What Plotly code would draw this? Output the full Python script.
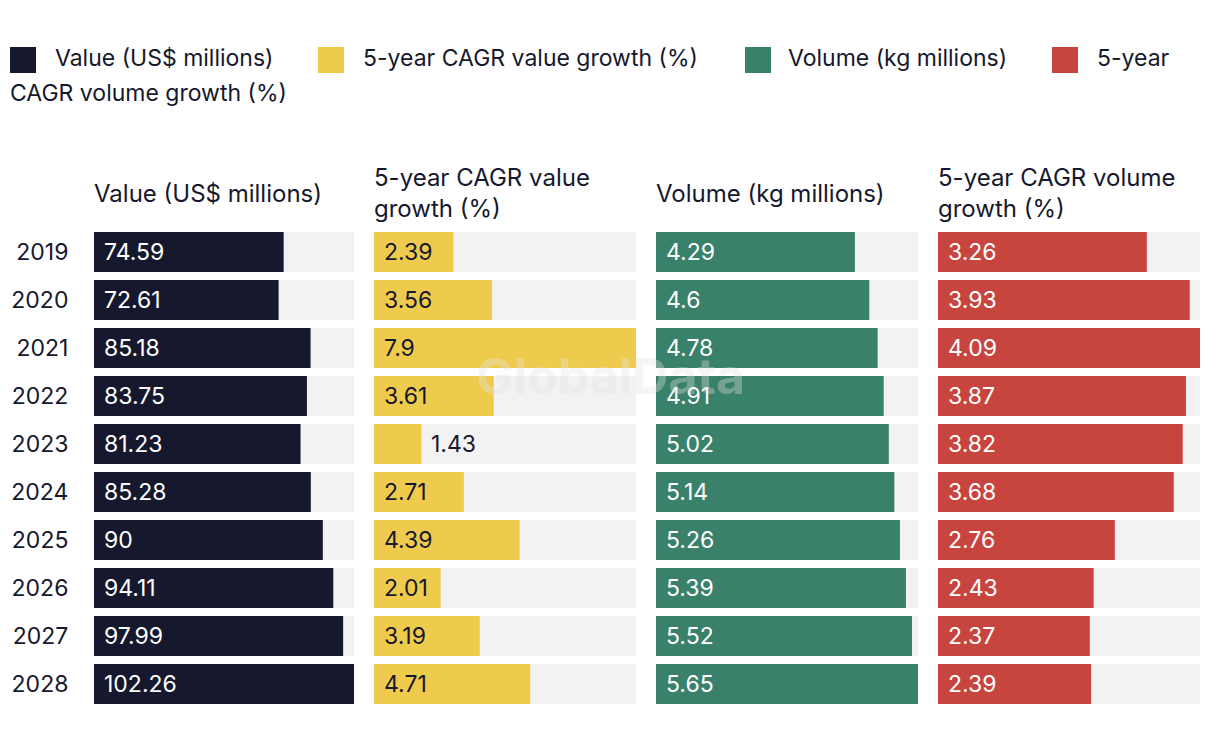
import plotly.graph_objects as go
from plotly.subplots import make_subplots

W, H = 1220, 748

years = ["2019", "2020", "2021", "2022", "2023", "2024", "2025", "2026", "2027", "2028"]
value_usd = [74.59, 72.61, 85.18, 83.75, 81.23, 85.28, 90, 94.11, 97.99, 102.26]
cagr_value = [2.39, 3.56, 7.9, 3.61, 1.43, 2.71, 4.39, 2.01, 3.19, 4.71]
volume_kg = [4.29, 4.6, 4.78, 4.91, 5.02, 5.14, 5.26, 5.39, 5.52, 5.65]
cagr_volume = [3.26, 3.93, 4.09, 3.87, 3.82, 3.68, 2.76, 2.43, 2.37, 2.39]

series_names = ["Value (US$ millions)", "5-year CAGR value growth (%)",
                "Volume (kg millions)", "5-year CAGR volume growth (%)"]
panel_titles = ["Value (US$ millions)", "5-year CAGR value<br>growth (%)",
                "Volume (kg millions)", "5-year CAGR volume<br>growth (%)"]
series_data = [value_usd, cagr_value, volume_kg, cagr_volume]
colors = ["#16182d", "#efcb4d", "#3a816b", "#c8443f"]
label_colors = ["#ffffff", "#16182d", "#ffffff", "#ffffff"]
dark = "#16182d"
FONT = "Inter"
FS = 23

panels_px = [(94, 354), (374, 636), (656, 918), (938, 1200)]
y_top_px, y_bot_px = 228, 708


def px_x(p):
    return p / W


def px_y(p):
    return 1 - p / H


fig = make_subplots(rows=1, cols=4)
annotations = []
shapes = []

for i, (vals, col) in enumerate(zip(series_data, colors)):
    vmax = max(vals)
    fig.add_trace(go.Bar(
        y=years, x=[vmax] * len(years), orientation="h",
        marker=dict(color="#f2f2f2", line=dict(width=0)),
        hoverinfo="skip", showlegend=False,
    ), row=1, col=i + 1)
    fig.add_trace(go.Bar(
        y=years, x=vals, orientation="h", name=series_names[i],
        marker=dict(color=col, line=dict(width=0)), showlegend=False,
    ), row=1, col=i + 1)
    x0, x1 = panels_px[i]
    width_px = x1 - x0
    fig.update_xaxes(domain=[px_x(x0), px_x(x1)], range=[0, vmax], visible=False,
                     fixedrange=True, row=1, col=i + 1)
    fig.update_yaxes(domain=[px_y(y_bot_px), px_y(y_top_px)], type="category",
                     categoryorder="array", categoryarray=years,
                     range=[len(years) - 0.5, -0.5],
                     showgrid=False, zeroline=False, showline=False,
                     showticklabels=(i == 0), ticks="outside" if i == 0 else "",
                     ticklen=20, tickcolor="rgba(0,0,0,0)",
                     tickfont=dict(family=FONT, size=FS, color=dark),
                     fixedrange=True, row=1, col=i + 1)
    xa = "x" if i == 0 else "x%d" % (i + 1)
    ya = "y" if i == 0 else "y%d" % (i + 1)
    for j, v in enumerate(vals):
        s = str(v)
        bar_px = v / vmax * width_px
        text_w = sum(6 if ch == "." else 13 for ch in s)
        inside = bar_px >= text_w + 14
        annotations.append(dict(
            x=0 if inside else v, y=j, xref=xa, yref=ya,
            text=s, showarrow=False, xanchor="left", yanchor="middle",
            xshift=8, font=dict(family=FONT, size=FS,
                                 color=label_colors[i] if inside else dark),
        ))
    annotations.append(dict(
        x=px_x(x0 - 2), y=px_y(193), xref="paper", yref="paper",
        text=panel_titles[i], showarrow=False, xanchor="left", yanchor="middle",
        align="left", font=dict(family=FONT, size=24, color=dark),
    ))

legend_items = [(10, 53, series_names[0]), (318, 361, series_names[1]),
                (745, 786, series_names[2]), (1052, 1095, "5-year")]
for i, (sx, tx, txt) in enumerate(legend_items):
    shapes.append(dict(type="rect", xref="paper", yref="paper",
                       x0=px_x(sx), x1=px_x(sx + 26), y0=px_y(73), y1=px_y(47),
                       fillcolor=colors[i], line=dict(width=0)))
    annotations.append(dict(x=px_x(tx), y=px_y(58), xref="paper", yref="paper",
                            text=txt, showarrow=False, xanchor="left", yanchor="middle",
                            font=dict(family=FONT, size=FS, color=dark)))
annotations.append(dict(x=px_x(8), y=px_y(93), xref="paper", yref="paper",
                        text="CAGR volume growth (%)", showarrow=False,
                        xanchor="left", yanchor="middle",
                        font=dict(family=FONT, size=FS, color=dark)))

annotations.append(dict(x=px_x(610), y=px_y(376), xref="paper", yref="paper",
                        text="<b>GlobalData</b>", showarrow=False,
                        xanchor="center", yanchor="middle",
                        font=dict(family=FONT, size=50, color="rgba(225,225,225,0.35)")))

fig.update_layout(
    width=W, height=H, margin=dict(l=0, r=0, t=0, b=0),
    paper_bgcolor="white", plot_bgcolor="white",
    barmode="overlay", bargap=8 / 48,
    showlegend=False, annotations=annotations, shapes=shapes,
    font=dict(family=FONT, size=FS, color=dark),
)

fig.write_html("out.html", config={"displayModeBar": False},
               post_script="document.body.style.margin='0';")
